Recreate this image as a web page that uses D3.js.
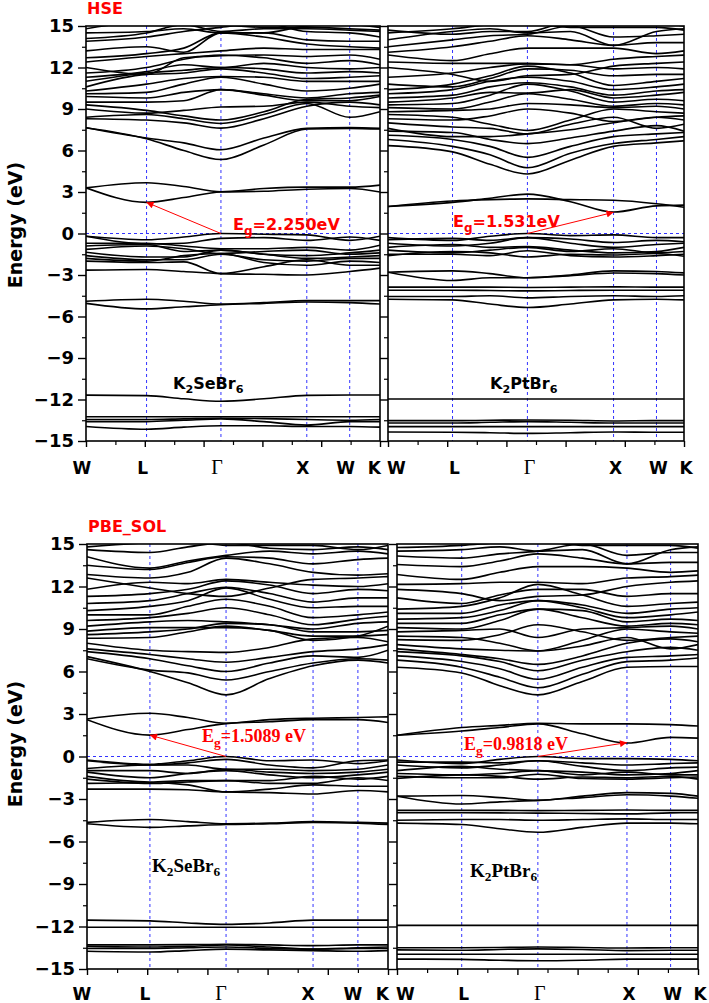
<!DOCTYPE html>
<html><head><meta charset="utf-8">
<script src="https://cdn.jsdelivr.net/npm/d3@7"></script>
<style>body{margin:0;background:#fff} svg{display:block}</style>
</head><body><svg id="c" width="709" height="1003"></svg>
<script>
// ---------- data ----------
const kLabels = ["W","L","\u0393","X","W","K"];
const yMajor = [-15,-12,-9,-6,-3,0,3,6,9,12,15];
const yMinor = [-13.5,-10.5,-7.5,-4.5,-1.5,1.5,4.5,7.5,10.5,13.5];
const xMajor = [0,0.2,0.4,0.6,0.8,1];
const xMinor = [0.1,0.3,0.5,0.7,0.9];

// k-point positions (fraction of path) for each panel
const kposHseSe = [0, 0.206, 0.459, 0.751, 0.897, 1];
const kposHsePt = [0, 0.218, 0.471, 0.762, 0.907, 1];
const kposPbeSe = [0, 0.209, 0.462, 0.751, 0.900, 1];
const kposPbePt = [0, 0.215, 0.468, 0.764, 0.909, 1];

// band energies (eV) at W, L, mid(L-Γ), Γ, mid(Γ-X), X, W, K
const bandsHseSe = [
 [-11.68,-11.72,-11.95,-12.13,-11.95,-11.7,-11.68,-11.68],
 [-13.25,-13.25,-13.25,-13.25,-13.25,-13.25,-13.25,-13.25],
 [-13.45,-13.45,-13.4,-13.35,-13.38,-13.45,-13.5,-13.45],
 [-13.6,-13.6,-13.5,-13.4,-13.6,-13.85,-13.6,-13.6],
 [-13.95,-14.15,-14.0,-13.9,-13.9,-13.95,-13.95,-14.0],
 [-4.9,-4.75,-4.9,-5.1,-5.0,-4.85,-4.85,-4.85],
 [-5.05,-5.45,-5.3,-5.15,-5.05,-4.95,-5.0,-5.1],
 [-0.2,-0.45,-0.25,0,-0.05,-0.1,-0.5,-0.2],
 [-0.2,-0.75,-0.7,-0.35,-0.3,-0.5,-0.25,-0.5],
 [-0.7,-0.7,-0.9,-1.1,-1.1,-1.0,-1.2,-0.85],
 [-0.9,-0.8,-1.3,-1.2,-1.5,-1.6,-1.4,-1.2],
 [-1.15,-0.9,-1.1,-1.45,-1.3,-1.2,-1.5,-1.4],
 [-1.35,-1.7,-1.7,-1.2,-1.5,-1.8,-1.7,-1.6],
 [-1.6,-1.9,-1.9,-1.5,-1.9,-2.0,-1.8,-1.8],
 [-1.8,-2.0,-1.6,-1.45,-2.1,-2.3,-2.0,-2.1],
 [-2.0,-2.1,-2.05,-2.9,-2.4,-1.9,-2.3,-2.3],
 [-2.65,-2.6,-2.75,-2.9,-2.95,-3.0,-2.75,-2.5],
 [3.3,2.25,2.6,3.0,3.05,3.2,3.25,3.0],
 [3.3,3.67,3.4,3.02,3.25,3.35,3.35,3.5],
 [7.65,6.85,6.0,5.35,6.4,7.55,7.6,7.55],
 [7.65,6.9,6.55,6.05,6.9,7.6,7.65,7.6],
 [8.3,8.2,8.0,7.62,8.3,9.2,9.5,9.3],
 [8.4,8.6,8.3,7.95,8.6,9.4,8.4,8.8],
 [9.0,8.7,8.9,9.15,9.2,9.5,9.2,9.1],
 [9.3,8.9,8.5,8.2,8.8,9.7,9.8,10.0],
 [9.5,9.5,9.6,10.4,10.1,9.8,10.1,10.2],
 [9.9,9.8,10.2,10.4,10.0,9.6,9.6,9.9],
 [10.1,10.2,10.8,11.3,10.8,10.3,10.5,10.8],
 [10.3,10.8,11.2,11.35,11.3,11.0,11.0,11.0],
 [10.6,11.5,11.6,11.9,11.6,11.2,11.3,11.4],
 [11.0,11.6,11.8,12.0,11.9,11.6,11.7,11.6],
 [11.3,11.7,12.2,12.0,12.3,12.0,11.9,12.0],
 [11.6,12.0,12.6,12.9,12.7,12.3,12.5,12.2],
 [12.0,11.5,12.7,12.85,12.9,12.8,12.9,12.6],
 [12.4,12.8,13.0,13.2,13.4,13.3,13.3,13.3],
 [12.7,13.0,13.4,14.5,14.2,13.7,13.5,13.4],
 [13.2,13.5,13.1,14.5,14.5,14.0,13.9,13.9],
 [13.9,14.2,14.6,14.9,15.2,14.6,14.5,14.2],
 [14.1,14.5,15.1,14.6,14.8,14.8,14.7,14.6],
 [14.5,14.6,14.8,14.5,14.5,15.0,15.1,14.9],
 [14.8,15.3,15.2,15.1,14.9,14.9,14.8,14.7]
];
const bandsHsePt = [
 [-11.96,-11.96,-11.96,-11.96,-11.96,-11.96,-11.96,-11.96],
 [-13.53,-13.53,-13.5,-13.48,-13.5,-13.55,-13.53,-13.53],
 [-13.7,-13.7,-13.65,-13.6,-13.65,-13.7,-13.7,-13.7],
 [-13.96,-13.96,-13.96,-13.96,-13.96,-13.96,-13.96,-13.96],
 [-14.35,-14.37,-14.4,-14.45,-14.4,-14.35,-14.37,-14.37],
 [-0.3,-0.5,-0.2,0,-0.15,-0.1,-0.3,-0.3],
 [-0.45,-0.35,-0.5,-0.3,-0.4,-0.65,-0.5,-0.6],
 [-0.7,-0.9,-0.7,-0.3,-0.7,-1.0,-0.8,-0.7],
 [-1.0,-0.8,-1.0,-0.95,-1.2,-1.4,-1.3,-1.0],
 [-1.2,-1.4,-1.2,-1.0,-1.3,-1.1,-1.4,-1.3],
 [-1.5,-1.5,-1.6,-1.25,-1.6,-1.7,-1.6,-1.5],
 [-1.6,-1.3,-1.4,-1.7,-1.5,-1.55,-1.45,-1.65],
 [-2.8,-2.7,-2.9,-3.2,-3.0,-2.7,-2.75,-2.85],
 [-2.8,-3.4,-3.2,-3.2,-3.05,-2.85,-2.9,-3.0],
 [-3.88,-3.88,-3.88,-3.9,-3.88,-3.86,-3.88,-3.88],
 [-4.1,-4.1,-4.12,-4.15,-4.12,-4.1,-4.1,-4.1],
 [-4.55,-4.55,-4.5,-4.65,-4.55,-4.5,-4.55,-4.5],
 [-4.75,-4.8,-5.1,-5.35,-5.1,-4.8,-4.75,-4.8],
 [1.95,2.25,2.55,2.85,2.3,1.55,2.0,2.05],
 [1.95,2.35,2.45,2.5,2.45,2.4,2.15,1.9],
 [6.35,5.9,5.0,4.3,5.3,6.3,6.55,6.7],
 [6.8,6.3,5.7,4.75,5.8,6.5,6.8,7.0],
 [7.1,6.8,6.3,5.5,6.3,7.0,7.2,7.3],
 [7.4,7.3,6.8,6.5,6.9,7.4,7.8,7.4],
 [7.6,7.0,7.0,7.2,7.5,8.0,8.4,8.2],
 [8.0,7.7,7.6,7.2,7.9,8.4,7.6,7.9],
 [8.3,8.2,8.5,9.0,8.7,8.1,8.4,8.5],
 [8.6,8.4,7.9,7.45,8.2,9.0,8.8,8.7],
 [8.8,8.9,9.0,9.4,9.3,9.1,9.2,9.0],
 [9.1,9.0,9.5,10.1,9.7,9.2,9.4,9.3],
 [9.3,9.4,10.0,10.8,10.3,9.5,9.7,9.6],
 [9.5,9.8,10.2,10.15,10.4,9.8,10.0,10.2],
 [9.8,10.0,10.6,10.9,10.6,10.0,10.3,10.4],
 [10.1,10.4,11.0,11.3,11.0,10.4,10.6,10.8],
 [10.4,10.8,11.4,12.1,11.6,10.7,11.0,11.2],
 [10.8,10.6,11.2,11.9,11.8,11.4,11.5,11.5],
 [11.3,11.6,12.0,12.25,12.2,11.9,12.0,11.9],
 [12.0,11.5,11.0,11.4,11.5,12.1,12.3,12.4],
 [12.4,12.3,12.3,12.3,12.2,12.6,12.8,12.9],
 [12.9,12.5,13.0,13.4,13.4,13.4,13.0,13.2],
 [13.1,13.5,13.9,14.3,14.0,13.6,13.8,13.8],
 [13.5,14.0,14.3,14.4,15.0,14.2,14.3,14.4],
 [14.0,14.6,14.8,14.5,14.6,13.6,14.6,14.8],
 [14.5,14.8,15.1,15.2,14.9,14.9,14.9,14.7],
 [14.7,14.4,14.6,14.6,15.3,15.1,15.2,15.0]
];
const bandsPbeSe = [
 [-11.55,-11.6,-11.75,-11.85,-11.75,-11.55,-11.55,-11.55],
 [-12.05,-12.05,-12.05,-12.05,-12.05,-12.05,-12.05,-12.05],
 [-13.3,-13.3,-13.28,-13.25,-13.3,-13.35,-13.3,-13.3],
 [-13.4,-13.45,-13.4,-13.3,-13.45,-13.6,-13.5,-13.45],
 [-13.55,-13.55,-13.5,-13.45,-13.55,-13.6,-13.55,-13.55],
 [-13.75,-13.8,-13.7,-13.6,-13.65,-13.7,-13.75,-13.7],
 [-4.65,-4.45,-4.6,-4.75,-4.7,-4.6,-4.65,-4.7],
 [-4.75,-5.0,-4.9,-4.8,-4.75,-4.65,-4.7,-4.8],
 [-0.25,-0.55,-0.3,0,-0.3,-0.25,-0.5,-0.3],
 [-0.3,-0.6,-0.45,-0.2,-0.6,-0.8,-0.3,-0.25],
 [-0.85,-0.6,-0.6,-0.9,-0.9,-1.0,-0.9,-0.6],
 [-1.0,-1.0,-1.2,-0.9,-1.1,-1.2,-1.1,-0.9],
 [-1.1,-1.5,-1.2,-1.0,-1.3,-1.5,-1.3,-1.1],
 [-1.4,-1.8,-1.7,-1.7,-1.7,-1.4,-1.6,-1.4],
 [-1.6,-1.9,-1.8,-1.7,-1.9,-1.9,-1.5,-1.7],
 [-1.9,-1.85,-2.0,-2.5,-2.3,-2.0,-2.1,-2.1],
 [-2.3,-2.3,-2.35,-2.5,-2.55,-2.65,-2.4,-2.5],
 [2.6,1.51,1.9,2.32,2.45,2.6,2.6,2.4],
 [2.65,3.05,2.75,2.35,2.6,2.7,2.75,2.8],
 [7.05,6.0,5.2,4.35,5.5,6.4,6.8,6.6],
 [6.9,6.1,5.9,5.4,6.0,6.6,6.9,6.8],
 [7.4,6.9,6.4,6.0,6.6,7.1,7.0,7.5],
 [7.6,7.2,6.9,6.65,7.0,7.4,7.6,7.9],
 [8.0,7.5,7.4,7.35,7.7,8.3,8.4,8.1],
 [8.35,8.4,8.8,9.2,8.9,8.5,8.5,8.6],
 [8.6,8.8,9.0,9.4,9.3,8.8,8.8,8.9],
 [8.85,9.1,9.1,9.1,8.9,8.2,8.5,9.2],
 [9.2,9.5,9.6,9.5,9.3,9.0,9.4,9.5],
 [9.6,9.8,10.1,10.5,10.0,9.3,9.7,9.9],
 [10.0,10.0,10.6,11.1,10.6,9.8,10.0,10.2],
 [10.3,10.6,11.0,11.9,11.1,10.5,10.6,10.6],
 [10.8,11.0,11.5,11.95,11.5,10.9,11.2,11.2],
 [11.3,11.5,11.8,12.4,12.1,11.5,11.8,11.7],
 [11.8,12.3,12.2,12.5,12.3,12.1,12.0,12.2],
 [12.6,11.9,11.5,11.3,11.9,12.5,12.6,12.7],
 [12.85,12.6,13.0,14.0,13.6,13.0,12.8,12.9],
 [13.5,13.2,13.7,14.1,14.0,13.6,13.9,14.0],
 [14.1,13.3,13.8,14.2,14.5,14.3,14.5,14.3],
 [14.6,14.4,14.8,15.1,14.7,14.6,14.8,14.6],
 [14.8,15.1,15.2,14.9,14.9,14.9,14.6,14.9]
];
const bandsPbePt = [
 [-11.92,-11.92,-11.92,-11.92,-11.92,-11.92,-11.92,-11.92],
 [-13.5,-13.5,-13.48,-13.45,-13.48,-13.52,-13.5,-13.5],
 [-13.65,-13.68,-13.62,-13.58,-13.62,-13.7,-13.68,-13.68],
 [-13.96,-13.96,-13.96,-13.96,-13.96,-13.96,-13.96,-13.96],
 [-14.3,-14.32,-14.38,-14.42,-14.38,-14.3,-14.3,-14.3],
 [-0.25,-0.5,-0.2,0,-0.15,-0.15,-0.2,-0.3],
 [-0.4,-0.4,-0.45,-0.3,-0.45,-0.6,-0.5,-0.45],
 [-0.6,-0.8,-0.6,-0.3,-0.7,-1.0,-0.8,-0.75],
 [-1.0,-0.7,-0.9,-1.0,-1.1,-1.3,-1.2,-1.0],
 [-1.2,-1.3,-1.2,-1.0,-1.3,-1.1,-1.3,-1.3],
 [-1.4,-1.5,-1.5,-1.25,-1.55,-1.6,-1.5,-1.45],
 [-1.55,-1.3,-1.4,-1.6,-1.45,-1.5,-1.4,-1.6],
 [-2.8,-2.75,-2.9,-3.1,-2.8,-2.55,-2.6,-2.8],
 [-2.8,-3.35,-3.2,-3.1,-2.9,-2.7,-2.8,-2.95],
 [-3.8,-3.8,-3.8,-3.82,-3.8,-3.78,-3.8,-3.8],
 [-3.97,-3.97,-3.98,-4.0,-4.02,-4.05,-3.98,-3.97],
 [-4.5,-4.45,-4.45,-4.5,-4.45,-4.4,-4.45,-4.45],
 [-4.7,-4.8,-5.1,-5.35,-5.0,-4.7,-4.7,-4.75],
 [1.5,1.8,2.05,2.3,1.6,0.95,1.35,1.3],
 [1.5,2.05,2.2,2.35,2.3,2.3,2.25,2.15],
 [6.3,5.9,5.0,4.35,5.3,6.3,6.35,6.35],
 [6.8,6.3,5.6,4.85,5.8,6.7,6.8,6.95],
 [7.1,6.7,6.2,5.45,6.3,7.0,7.1,7.2],
 [7.4,7.1,6.7,6.05,6.8,7.4,7.7,7.5],
 [7.6,7.2,6.9,6.5,7.1,8.0,8.3,8.1],
 [7.9,7.6,7.5,7.45,7.8,8.4,7.6,7.9],
 [8.25,8.2,8.6,9.3,8.8,8.2,8.4,8.5],
 [8.5,8.4,8.0,7.45,8.2,9.0,8.8,8.7],
 [8.8,8.9,9.0,8.4,9.0,9.1,9.2,9.0],
 [9.1,9.0,9.6,10.4,9.8,9.2,9.4,9.3],
 [9.4,9.4,10.0,10.4,10.3,9.5,9.7,9.6],
 [9.7,9.8,10.3,11.0,10.5,9.8,10.0,10.2],
 [10.1,10.1,10.7,11.0,10.7,10.1,10.4,10.5],
 [10.4,10.6,11.2,12.15,11.4,10.6,10.8,10.9],
 [11.2,10.8,11.4,11.8,11.8,11.3,11.5,11.5],
 [11.8,11.5,11.0,11.3,11.4,12.0,12.3,12.4],
 [12.15,12.2,12.3,12.3,12.2,12.6,12.7,12.8],
 [12.85,12.5,13.0,13.4,13.4,13.3,13.0,13.1],
 [13.55,13.4,13.8,14.3,14.0,13.6,13.7,13.7],
 [14.15,14.0,14.3,14.5,15.0,14.2,14.4,14.4],
 [14.5,14.6,14.8,14.5,14.6,13.6,14.6,14.8],
 [14.75,14.9,15.1,15.2,14.9,14.9,14.9,14.7]
];

// band gaps
const gapValues = [2.250, 1.531, 1.5089, 0.9818];
const gapTexts = ["=2.250eV", "=1.531eV", "=1.5089 eV", "=0.9818 eV"];
const gapCbmK = [1, 3, 1, 3];
const compounds = [["K","2","SeBr","6"],["K","2","PtBr","6"],["K","2","SeBr","6"],["K","2","PtBr","6"]];
const methods = ["HSE", "PBE_SOL"];

// ---------- drawing ----------
const svg = d3.select("#c");
const defs = svg.append("defs");
defs.append("marker").attr("id","arr").attr("viewBox","0 0 10 10")
  .attr("refX",10).attr("refY",5).attr("markerWidth",9).attr("markerHeight",7)
  .attr("markerUnits","userSpaceOnUse").attr("orient","auto")
  .append("path").attr("d","M0,0L10,5L0,10z").attr("fill","#ff0000");

const SANS = "'DejaVu Sans', sans-serif";
const SERIF = "'Liberation Serif', 'Times New Roman', serif";

const panels = [
 {x0:86, x1:380, y0:26, y1:441, kpos:kposHseSe, bands:bandsHseSe, labels:true, gi:0, side:"L", ldx:-4,
  gx:233, gy:230, gfont:SANS, gsize:16, cx:173, cy:389, cfont:SANS, csize:16, lblY:474},
 {x0:388, x1:684, y0:26, y1:441, kpos:kposHsePt, bands:bandsHsePt, labels:false, gi:1, side:"R", ldx:2,
  gx:453, gy:227, gfont:SANS, gsize:16, cx:490, cy:389, cfont:SANS, csize:16, lblY:474},
 {x0:87, x1:388, y0:544, y1:969, kpos:kposPbeSe, bands:bandsPbeSe, labels:true, gi:2, side:"L", ldx:-5,
  gx:202, gy:742, gfont:SERIF, gsize:18, cx:152, cy:872, cfont:SERIF, csize:19, lblY:1000},
 {x0:397, x1:698, y0:544, y1:969, kpos:kposPbePt, bands:bandsPbePt, labels:false, gi:3, side:"R", ldx:2,
  gx:464, gy:750, gfont:SERIF, gsize:18, cx:470, cy:877, cfont:SERIF, csize:19, lblY:1000}
];

panels.forEach((p, pi) => {
  const x = d3.scaleLinear().domain([0,1]).range([p.x0, p.x1]);
  const y = d3.scaleLinear().domain([-15,15]).range([p.y1, p.y0]);
  const kp = p.kpos;
  const knots = [kp[0], kp[1], (kp[1]+kp[2])/2, kp[2], (kp[2]+kp[3])/2, kp[3], kp[4], kp[5]];
  const g = svg.append("g");
  const cid = "clip" + pi;
  defs.append("clipPath").attr("id", cid).append("rect")
    .attr("x", p.x0).attr("y", p.y0).attr("width", p.x1 - p.x0).attr("height", p.y1 - p.y0);

  // dashed guides
  const guides = g.append("g").attr("stroke","#3333ff").attr("stroke-width",1).attr("stroke-dasharray","3,3");
  kp.slice(1,5).forEach(k => guides.append("line")
    .attr("x1", x(k)).attr("x2", x(k)).attr("y1", y(15)).attr("y2", y(-15)));
  guides.append("line").attr("x1", x(0)).attr("x2", x(1)).attr("y1", y(0)).attr("y2", y(0));

  // bands
  const line = d3.line().x((d,i) => x(knots[i])).y(d => y(d)).curve(d3.curveMonotoneX);
  g.append("g").attr("clip-path", `url(#${cid})`)
    .selectAll("path").data(p.bands).join("path")
    .attr("d", line).attr("fill","none").attr("stroke","#000").attr("stroke-width",1.6);

  // gap arrow
  const gv = gapValues[p.gi];
  g.append("line").attr("x1", x(kp[2])).attr("y1", y(0))
    .attr("x2", x(kp[gapCbmK[p.gi]])).attr("y2", y(gv))
    .attr("stroke","#ff0000").attr("stroke-width",1).attr("marker-end","url(#arr)");

  // frame
  g.append("rect").attr("x", p.x0).attr("y", p.y0).attr("width", p.x1 - p.x0).attr("height", p.y1 - p.y0)
    .attr("fill","none").attr("stroke","#000").attr("stroke-width",1.6);

  // y axis
  const ya = g.append("g").attr("transform", `translate(${p.x0},0)`)
    .call(d3.axisLeft(y).tickValues(yMajor).tickSize(8).tickPadding(4)
      .tickFormat(p.labels ? d3.format("d") : () => ""));
  ya.select(".domain").remove();
  ya.selectAll("line").attr("stroke-width",1.4);
  ya.selectAll("text").attr("font-family", SANS).attr("font-weight","bold").attr("font-size",18).attr("fill","#000");
  const ym = g.append("g").attr("transform", `translate(${p.x0},0)`)
    .call(d3.axisLeft(y).tickValues(yMinor).tickSize(4).tickFormat(() => ""));
  ym.select(".domain").remove();
  ym.selectAll("line").attr("stroke-width",1.2);

  // x axis
  const xa = g.append("g").attr("transform", `translate(0,${p.y1})`)
    .call(d3.axisBottom(x).tickValues(xMajor).tickSize(6).tickFormat(() => ""));
  xa.select(".domain").remove();
  xa.selectAll("line").attr("stroke-width",1.4);
  const xm = g.append("g").attr("transform", `translate(0,${p.y1})`)
    .call(d3.axisBottom(x).tickValues(xMinor).tickSize(4).tickFormat(() => ""));
  xm.select(".domain").remove();
  xm.selectAll("line").attr("stroke-width",1.2);

  // k labels
  kLabels.forEach((lab, i) => {
    const isG = lab === "\u0393";
    let xx = x(kp[i]) + p.ldx, anchor = "middle";
    if (p.side === "L" && i === 5) { xx = x(kp[i]) + 1; anchor = "end"; }
    if (p.side === "R" && i === 0) { xx = x(kp[i]) - 1; anchor = "start"; }
    g.append("text").attr("x", xx).attr("y", p.lblY).attr("text-anchor", anchor)
      .attr("font-family", isG ? SERIF : SANS).attr("font-weight", isG ? "normal" : "bold")
      .attr("font-size", isG ? 20 : 17).attr("fill","#000").text(lab);
  });

  // gap label
  const gt = g.append("text").attr("x", p.gx).attr("y", p.gy).attr("fill","#ff0000")
    .attr("font-family", p.gfont).attr("font-weight","bold").attr("font-size", p.gsize);
  gt.append("tspan").text("E");
  gt.append("tspan").attr("dy", 5).attr("font-size", p.gsize * 0.75).text("g");
  gt.append("tspan").attr("dy", -5).text(gapTexts[p.gi]);

  // compound label
  const c = compounds[pi];
  const ct = g.append("text").attr("x", p.cx).attr("y", p.cy).attr("fill","#000")
    .attr("font-family", p.cfont).attr("font-weight","bold").attr("font-size", p.csize);
  ct.append("tspan").text(c[0]);
  ct.append("tspan").attr("dy", 4).attr("font-size", p.csize * 0.7).text(c[1]);
  ct.append("tspan").attr("dy", -4).text(c[2]);
  ct.append("tspan").attr("dy", 4).attr("font-size", p.csize * 0.7).text(c[3]);
});

// method titles
[[87,14],[88,532]].forEach((pos, i) => {
  svg.append("text").attr("x", pos[0]).attr("y", pos[1]).attr("fill","#ff0000")
    .attr("font-family", SANS).attr("font-weight","bold").attr("font-size",16).text(methods[i]);
});

// y titles
[225, 744].forEach(cy => {
  svg.append("text").attr("transform", `translate(22,${cy}) rotate(-90)`).attr("text-anchor","middle")
    .attr("font-family", SANS).attr("font-weight","bold").attr("font-size",19).attr("fill","#000")
    .text("Energy (eV)");
});
</script></body></html>
